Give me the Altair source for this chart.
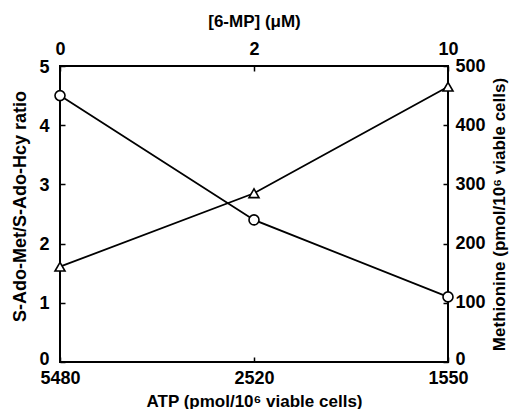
import altair as alt
import pandas as pd

# Data
idx = [0, 1, 2]
atp_labels = ["5480", "2520", "1550"]
mp_labels = ["0", "2", "10"]
ratio = [4.5, 2.4, 1.1]          # S-Ado-Met/S-Ado-Hcy ratio (circles, left axis)
methionine = [161, 285, 465]     # pmol/10^6 viable cells (triangles, right axis)
ratio_ticks = [0, 1, 2, 3, 4, 5]
met_ticks = [0, 100, 200, 300, 400, 500]

df = pd.DataFrame({"idx": idx, "ratio": ratio, "met": methionine})


def label_expr(labels):
    expr = "''"
    for i in reversed(range(len(labels))):
        expr = f"datum.value == {i} ? '{labels[i]}' : ({expr})"
    return expr


FONT = "Liberation Sans"
common_axis = dict(
    offset=-5, tickSize=5, domain=False, grid=False,
    tickColor="black", tickWidth=1.5,
    labelFont=FONT, labelFontSize=18, labelFontWeight="bold", labelColor="black",
    titleFont=FONT, titleFontWeight="bold", titleColor="black",
)

xscale = alt.Scale(domain=[0, 2], nice=False, zero=False)

line_a = alt.Chart(df).mark_line(
    color="black", strokeWidth=1.8,
    point=alt.OverlayMarkDef(shape="circle", filled=True, fill="white",
                             stroke="black", strokeWidth=1.6, size=100),
).encode(
    x=alt.X("idx:Q", scale=xscale,
            axis=alt.Axis(orient="bottom", values=idx, labelExpr=label_expr(atp_labels),
                          labelFlush=False, labelPadding=7, titlePadding=6, titleFontSize=17,
                          title="ATP (pmol/10⁶ viable cells)", **common_axis)),
    y=alt.Y("ratio:Q", scale=alt.Scale(domain=[0, 5], nice=False),
            axis=alt.Axis(orient="left", values=ratio_ticks, labelPadding=11,
                          labelOffset={"condition": {"test": "datum.value == 0", "value": -3},
                                       "value": 1},
                          titlePadding=9, titleY=140, titleFontSize=18,
                          title="S-Ado-Met/S-Ado-Hcy ratio", **common_axis)),
)

line_b = alt.Chart(df).mark_line(
    color="black", strokeWidth=1.8,
    point=alt.OverlayMarkDef(shape="triangle-up", filled=True, fill="white",
                             stroke="black", strokeWidth=1.6, size=100),
).encode(
    x=alt.X("idx:Q", scale=xscale,
            axis=alt.Axis(orient="top", values=idx, labelExpr=label_expr(mp_labels),
                          labelFlush=False, labelPadding=8, titlePadding=10, titleFontSize=17,
                          title="[6-MP] (μM)", **common_axis)),
    y=alt.Y("met:Q", scale=alt.Scale(domain=[0, 500], nice=False),
            axis=alt.Axis(orient="right", values=met_ticks, labelPadding=7,
                          labelOffset={"condition": {"test": "datum.value == 0", "value": -3},
                                       "value": 0},
                          titlePadding=6, titleAngle=270, titleBaseline="top", titleFontSize=17,
                          title="Methionine (pmol/10⁶ viable cells)",
                          **common_axis)),
)

chart = alt.layer(line_a, line_b).resolve_scale(y="independent").resolve_axis(
    x="independent", y="independent"
).properties(
    width=388, height=296,
    autosize=alt.AutoSizeParams(type="none"),
    padding={"left": 52, "top": 58, "right": 62, "bottom": 47},
    background="white",
).configure_view(stroke="black", strokeWidth=2)

chart.save("out.html", embed_options={"renderer": "svg", "actions": False})
